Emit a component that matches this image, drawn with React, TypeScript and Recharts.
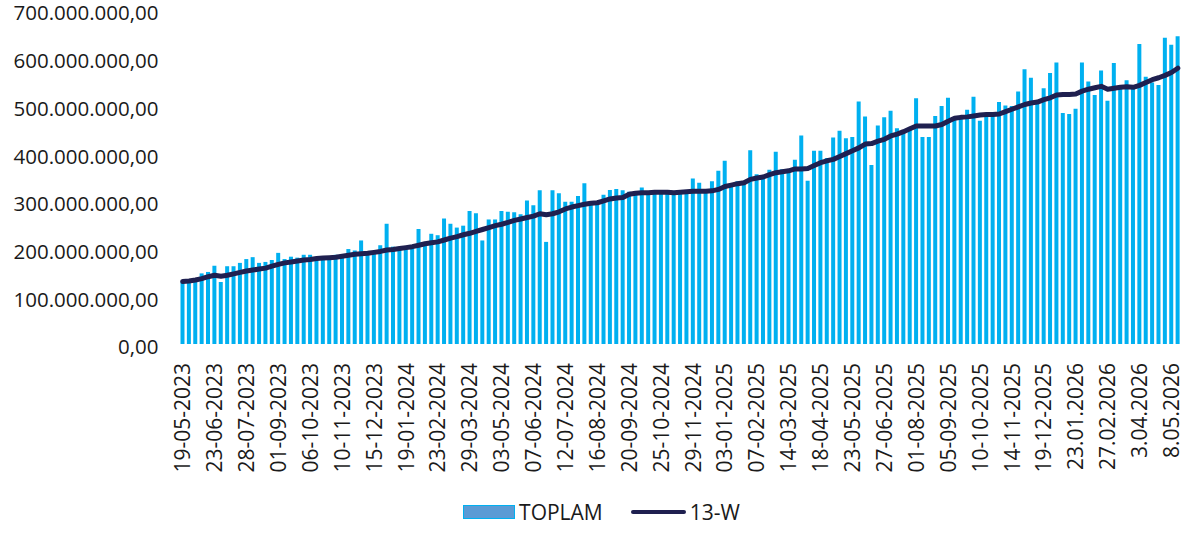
import { ComposedChart, Bar, Line, XAxis, YAxis, Legend } from 'recharts';

// weekly totals (millions)
const toplam = [
  130, 131, 134, 148, 151, 164, 130, 163, 163, 170, 178, 182, 170, 172, 176, 191, 178, 183, 181, 187,
  187, 180, 181, 179, 187, 182, 199, 196, 217, 187, 194, 207, 252, 204, 198, 199, 203, 241, 214,
  231, 228, 263, 252, 244, 248, 279, 274, 217, 261, 261, 279, 277, 276, 272, 301, 291, 322, 214,
  322, 316, 298, 298, 310, 337, 292, 294, 313, 323, 325, 322, 319, 320, 328, 316, 317, 316, 322, 318,
  318, 320, 347, 338, 325, 341, 363, 384, 336, 341, 336, 406, 356, 351, 365, 403, 366, 361, 386,
  437, 342, 405, 405, 390, 433, 447, 431, 434, 508, 477, 375, 458, 475, 489, 452, 446, 452, 515, 434,
  434, 478, 499, 516, 475, 473, 491, 518, 468, 479, 483, 507, 500, 499, 529, 576, 558, 505, 536,
  568, 590, 484, 482, 493, 590, 550, 522, 573, 510, 589, 537, 553, 537, 629, 560, 548, 543, 642, 627, 645,
];

// 13-week line (millions)
const w13 = [
  131, 132, 134, 137, 141, 144, 142, 144, 147, 150, 153, 155, 157, 159, 163, 167, 170, 172, 174, 176,
  177, 179, 180, 181, 182, 184, 186, 188, 189, 190, 192, 194, 197, 198, 200, 202, 204, 207, 210,
  212, 214, 218, 222, 225, 229, 232, 236, 240, 244, 248, 251, 255, 259, 262, 265, 268, 273, 271,
  273, 277, 283, 287, 290, 293, 295, 296, 300, 304, 306, 307, 314, 316, 317, 317, 318, 318, 318, 317,
  318, 319, 320, 320, 320, 321, 324, 330, 333, 336, 338, 345, 348, 350, 355, 359, 361, 363, 367,
  367, 368, 374, 380, 384, 387, 393, 399, 405, 411, 419, 420, 425, 429, 436, 440, 445, 451, 457, 457,
  457, 457, 460, 467, 473, 475, 476, 478, 480, 481, 481, 482, 487, 492, 497, 502, 505, 507, 512,
  516, 522, 523, 523, 524, 530, 534, 537, 540, 534, 536, 538, 539, 538, 542, 548, 554, 558, 563, 569, 578,
];

const yTicks = [0, 100, 200, 300, 400, 500, 600, 700];

const pad = (n: number) => (n < 10 ? '0' + n : '' + n);

// weekly dates starting 19-05-2023
const start = Date.UTC(2023, 4, 19);
const weeks = toplam.map((_, i) => {
  const d = new Date(start + i * 7 * 86400000);
  const dd = d.getUTCDate();
  const mm = pad(d.getUTCMonth() + 1);
  const yy = d.getUTCFullYear();
  return yy >= 2026 ? `${dd}.${mm}.${yy}` : `${pad(dd)}-${mm}-${yy}`;
});

const data = weeks.map((date, i) => ({
  date,
  TOPLAM: toplam[i] * 1e6,
  W13: w13[i] * 1e6,
}));

const fmtMoney = (v: number) => {
  const s = Math.round(v).toString().replace(/\B(?=(\d{3})+(?!\d))/g, '.');
  return s + ',00';
};

const font = '"Open Sans", sans-serif';

const DateTick = ({ x, y, payload }: any) => (
  <text
    x={x}
    y={y + 11}
    transform={`rotate(-90, ${x}, ${y + 11})`}
    textAnchor="end"
    dy="0.36em"
    fontSize={21}
    fontFamily={font}
    fill="#1a1a1a"
  >
    {payload.value}
  </text>
);

const MoneyTick = ({ x, y, payload }: any) => (
  <text x={x} y={y + 3} textAnchor="end" dy="0.36em" fontSize={20.5} fontFamily={font} fill="#1a1a1a">
    {fmtMoney(payload.value)}
  </text>
);

const LegendBox = () => (
  <div style={{ position: 'relative', top: -3, display: 'flex', justifyContent: 'center', alignItems: 'center', height: 36, paddingLeft: 22, fontFamily: font, fontSize: 21, color: '#1a1a1a' }}>
    <span style={{ display: 'inline-block', width: 50, height: 12, background: '#5B9BD5', border: '1px solid #00B0F0', marginRight: 4 }} />
    <span style={{ marginRight: 28 }}>TOPLAM</span>
    <span style={{ display: 'inline-block', width: 55, height: 4, background: '#1F2050', borderRadius: 2, marginRight: 4 }} />
    <span>13-W</span>
  </div>
);

export default function App() {
  return (
    <div style={{ position: 'absolute', left: 0, top: 0 }}>
      <ComposedChart
        width={1192}
        height={533}
        data={data}
        margin={{ top: 10, right: 11, left: 0, bottom: 0 }}
      >
        <XAxis
          dataKey="date"
          interval={4}
          tick={<DateTick />}
          tickLine={false}
          axisLine={false}
          height={153}
        />
        <YAxis
          width={179.5}
          domain={[0, 700000000]}
          ticks={yTicks.map((t) => t * 1e6)}
          tickLine={false}
          axisLine={false}
          tickSize={0}
          tickMargin={21}
          tick={<MoneyTick />}
        />
        <Legend verticalAlign="bottom" content={<LegendBox />} />
        <Bar dataKey="TOPLAM" fill="#00B0F0" barSize={4} isAnimationActive={false} />
        <Line
          dataKey="W13"
          name="13-W"
          type="linear"
          stroke="#1F2050"
          strokeWidth={5}
          strokeLinecap="round"
          strokeLinejoin="round"
          dot={false}
          activeDot={false}
          isAnimationActive={false}
        />
      </ComposedChart>
    </div>
  );
}
